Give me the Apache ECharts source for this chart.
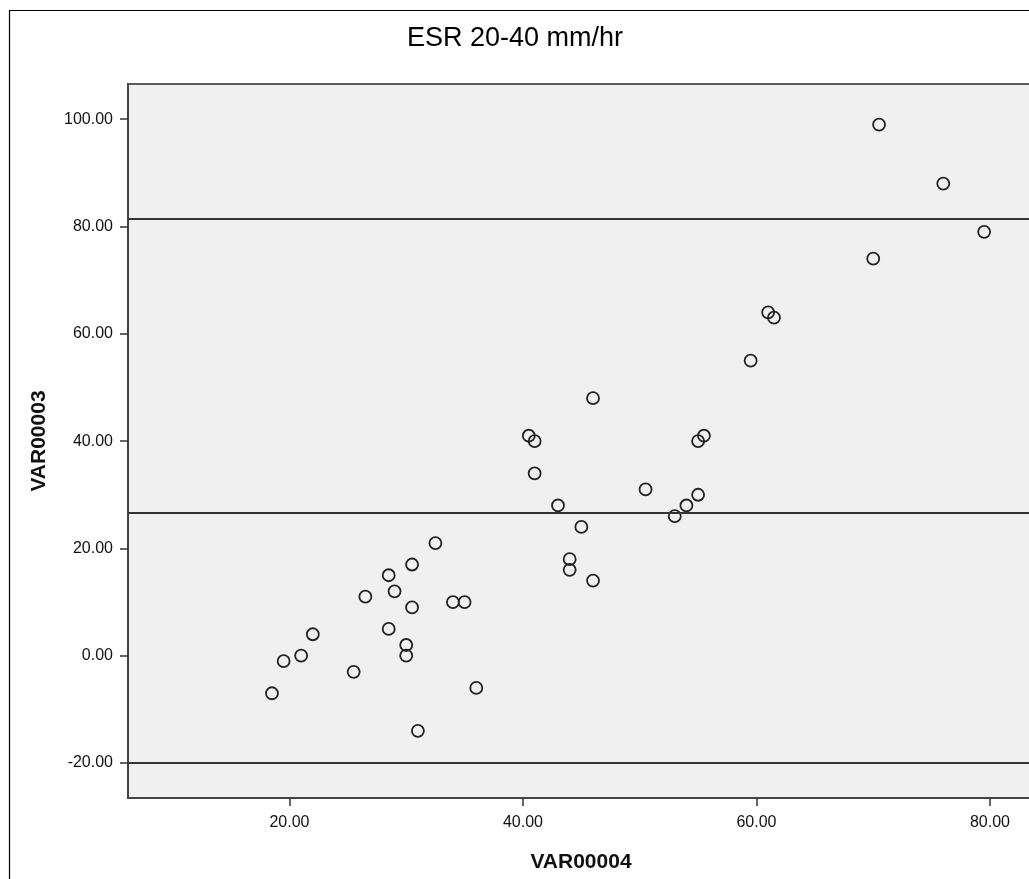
<!DOCTYPE html>
<html>
<head>
<meta charset="utf-8">
<script src="https://cdn.jsdelivr.net/npm/echarts@6/dist/echarts.min.js"></script>
<style>
  html, body { margin: 0; padding: 0; background: #ffffff; }
  #chart { width: 1029px; height: 879px; }
</style>
</head>
<body>
<div id="chart"></div>
<script>
// Scatter of VAR00003 against VAR00004 with three horizontal reference lines
const chartTitle = 'ESR 20-40 mm/hr';
const xName = 'VAR00004';
const yName = 'VAR00003';

const var00004 = [
  18.5, 19.5, 21, 22, 25.5, 26.5, 28.5, 28.5, 29, 30,
  30, 30.5, 30.5, 31, 32.5, 34, 35, 36, 40.5, 41,
  41, 43, 44, 44, 45, 46, 46, 50.5, 53, 54,
  55, 55, 55.5, 59.5, 61, 61.5, 70, 70.5, 76, 79.5
];
const var00003 = [
  -7, -1, 0, 4, -3, 11, 15, 5, 12, 2,
  0, 9, 17, -14, 21, 10, 10, -6, 41, 40,
  34, 28, 18, 16, 24, 48, 14, 31, 26, 28,
  30, 40, 41, 55, 64, 63, 74, 99, 88, 79
];

const xTicks = [20, 40, 60, 80];
const yTicks = [-20, 0, 20, 40, 60, 80, 100];
const refLines = [81.5, 26.65, -19.95];

const points = var00004.map((x, i) => [x, var00003[i]]);
const fontFamily = '"Liberation Sans", Arial, sans-serif';
const fmt = v => Number(v).toFixed(2);

const chart = echarts.init(document.getElementById('chart'), null, { renderer: 'canvas' });

chart.setOption({
  animation: false,
  backgroundColor: '#ffffff',
  grid: {
    left: 128, top: 84, right: -5, bottom: 81,
    containLabel: false,
    outerBoundsMode: 'none',
    show: true,
    backgroundColor: '#f0f0f0',
    borderColor: '#5a5a5a',
    borderWidth: 2
  },
  xAxis: {
    type: 'value',
    min: 6.17, max: 83.77,
    name: xName,
    nameLocation: 'middle',
    nameGap: 54,
    nameTextStyle: { fontFamily, fontSize: 21, fontWeight: 'bold', color: '#111' },
    axisLine: { show: true, onZero: false, lineStyle: { color: '#444', width: 2 } },
    axisTick: { show: true, length: 8, customValues: xTicks, lineStyle: { color: '#333', width: 1.5 } },
    axisLabel: { customValues: xTicks, formatter: fmt, margin: 17, fontFamily, fontSize: 16, color: '#111' },
    splitLine: { show: false }
  },
  yAxis: {
    type: 'value',
    min: -26.52, max: 106.56,
    name: yName,
    nameLocation: 'middle',
    nameGap: 78,
    nameRotate: 90,
    nameTextStyle: { fontFamily, fontSize: 21, fontWeight: 'bold', color: '#111' },
    axisLine: { show: true, onZero: false, lineStyle: { color: '#444', width: 2 } },
    axisTick: { show: true, length: 8, customValues: yTicks, lineStyle: { color: '#333', width: 1.5 } },
    axisLabel: { customValues: yTicks, formatter: fmt, margin: 15, fontFamily, fontSize: 16, color: '#111' },
    splitLine: { show: false }
  },
  graphic: [
    {
      type: 'text',
      left: 520 - 113, top: 25,
      style: { text: chartTitle, fontFamily, fontSize: 27, fill: '#000' }
    },
    {
      type: 'polyline',
      silent: true,
      shape: { points: [[9.5, 879], [9.5, 10.5], [1029, 10.5]] },
      style: { stroke: '#000', lineWidth: 1.2, fill: null }
    }
  ],
  series: [
    {
      type: 'scatter',
      data: points,
      symbol: 'circle',
      symbolSize: 12,
      itemStyle: { color: 'rgba(0,0,0,0)', borderColor: '#222', borderWidth: 1.8, opacity: 1 },
      markLine: {
        silent: true,
        symbol: ['none', 'none'],
        label: { show: false },
        lineStyle: { color: '#333', width: 2, type: 'solid' },
        data: refLines.map(v => ({ yAxis: v }))
      }
    }
  ]
});
</script>
</body>
</html>
